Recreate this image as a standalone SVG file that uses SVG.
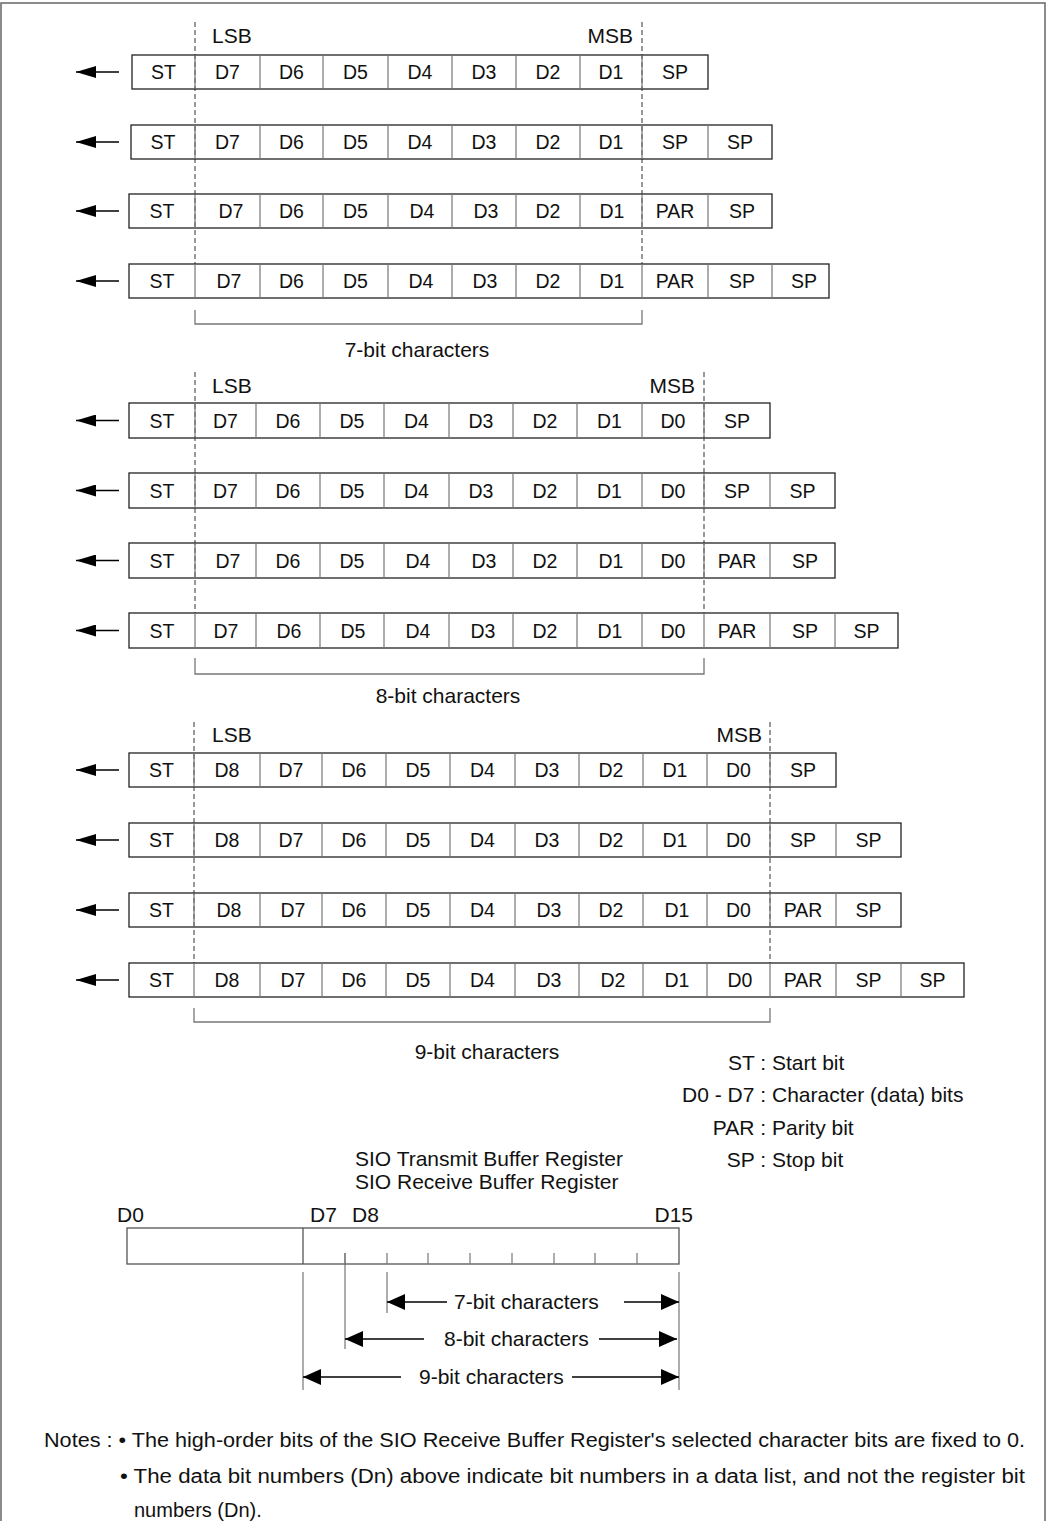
<svg xmlns="http://www.w3.org/2000/svg" width="1047" height="1521" viewBox="0 0 1047 1521">
<defs>
<marker id="ah" viewBox="0 0 20 12" refX="20" refY="6" markerWidth="20" markerHeight="12" markerUnits="userSpaceOnUse" orient="auto"><path d="M0,0 L20,6 L0,12 z" fill="#000"/></marker>
<marker id="ah2" viewBox="0 0 18 16" refX="18" refY="8" markerWidth="18" markerHeight="16" markerUnits="userSpaceOnUse" orient="auto"><path d="M0,0 L18,8 L0,16 z" fill="#000"/></marker>
<style>
text{font-family:"Liberation Sans",Arial,sans-serif;fill:#111}
.c{font-size:19.5px;text-anchor:middle}
.l{font-size:21px}
.lm{font-size:21px;text-anchor:middle}
.le{font-size:21px;text-anchor:end}
.n{font-size:20px}
.box{fill:none;stroke:#222;stroke-width:1.3}
.div{fill:none;stroke:#777;stroke-width:1.2}
.dash{fill:none;stroke:#333;stroke-width:1;stroke-dasharray:5,3}
.brk{fill:none;stroke:#777;stroke-width:1.3}
.arr{fill:none;stroke:#000;stroke-width:1.3;marker-end:url(#ah)}
.arr2{fill:none;stroke:#000;stroke-width:1.3;marker-end:url(#ah2)}
.reg{fill:none;stroke:#555;stroke-width:1.3}
.thin{fill:none;stroke:#777;stroke-width:1.2}
</style>
</defs>
<rect x="1" y="3" width="1044" height="1530" fill="none" stroke="#666" stroke-width="1.5"/>

<g id="connectors">
<path class="arr" d="M119,72 H76"/>
<path class="arr" d="M119,142 H76"/>
<path class="arr" d="M119,211 H76"/>
<path class="arr" d="M119,281 H76"/>
<path class="arr" d="M119,420.5 H76"/>
<path class="arr" d="M119,490.5 H76"/>
<path class="arr" d="M119,560.5 H76"/>
<path class="arr" d="M119,630.5 H76"/>
<path class="arr" d="M119,770 H76"/>
<path class="arr" d="M119,840 H76"/>
<path class="arr" d="M119,910 H76"/>
<path class="arr" d="M119,980 H76"/>
<path class="dash" d="M195,22 V264 M642,22 V264"/>
<path class="dash" d="M195,372 V613 M704,372 V613"/>
<path class="dash" d="M194,722 V963 M770,722 V963"/>
<path class="brk" d="M195,310 V324 H642 V310"/>
<path class="brk" d="M195,658 V674 H704 V658"/>
<path class="brk" d="M194,1008 V1022 H770 V1008"/>
<path class="thin" d="M303,1272 V1390 M345,1253 V1349 M387,1272 V1313 M679,1272 V1390"/>
<path class="arr2" d="M447,1302 H387"/>
<path class="arr2" d="M624,1302 H679"/>
<path class="arr2" d="M424,1339 H345"/>
<path class="arr2" d="M599,1339 H677"/>
<path class="arr2" d="M401,1377 H303"/>
<path class="arr2" d="M572,1377 H679"/>
</g>

<g id="sec7-labels">
<text class="l" x="212" y="43">LSB</text>
<text class="le" x="633" y="43">MSB</text>
<text class="lm" x="417" y="357">7-bit characters</text>
</g>
<g id="sec7-row1">
<rect class="box" x="132" y="55" width="576" height="34"/>
<path class="div" d="M195,55V89M260,55V89M323,55V89M388,55V89M452,55V89M516,55V89M580,55V89M642,55V89"/>
<text class="c" x="163.5" y="79">ST</text><text class="c" x="227.5" y="79">D7</text><text class="c" x="291.5" y="79">D6</text><text class="c" x="355.5" y="79">D5</text><text class="c" x="420" y="79">D4</text><text class="c" x="484" y="79">D3</text><text class="c" x="548" y="79">D2</text><text class="c" x="611" y="79">D1</text><text class="c" x="675" y="79">SP</text>
</g>
<g id="sec7-row2">
<rect class="box" x="131" y="125" width="641" height="34"/>
<path class="div" d="M195,125V159M260,125V159M323,125V159M388,125V159M452,125V159M516,125V159M580,125V159M642,125V159M708,125V159"/>
<text class="c" x="163" y="149">ST</text><text class="c" x="227.5" y="149">D7</text><text class="c" x="291.5" y="149">D6</text><text class="c" x="355.5" y="149">D5</text><text class="c" x="420" y="149">D4</text><text class="c" x="484" y="149">D3</text><text class="c" x="548" y="149">D2</text><text class="c" x="611" y="149">D1</text><text class="c" x="675" y="149">SP</text><text class="c" x="740" y="149">SP</text>
</g>
<g id="sec7-row3">
<rect class="box" x="129" y="194" width="643" height="34"/>
<path class="div" d="M195,194V228M260,194V228M323,194V228M388,194V228M452,194V228M516,194V228M580,194V228M642,194V228M708,194V228"/>
<text class="c" x="162" y="218">ST</text><text class="c" x="231" y="218">D7</text><text class="c" x="291.5" y="218">D6</text><text class="c" x="355.5" y="218">D5</text><text class="c" x="422" y="218">D4</text><text class="c" x="486" y="218">D3</text><text class="c" x="548" y="218">D2</text><text class="c" x="612" y="218">D1</text><text class="c" x="675" y="218">PAR</text><text class="c" x="742" y="218">SP</text>
</g>
<g id="sec7-row4">
<rect class="box" x="129" y="264" width="700" height="34"/>
<path class="div" d="M195,264V298M260,264V298M323,264V298M388,264V298M452,264V298M516,264V298M580,264V298M642,264V298M708,264V298M772,264V298"/>
<text class="c" x="162" y="288">ST</text><text class="c" x="229" y="288">D7</text><text class="c" x="291.5" y="288">D6</text><text class="c" x="355.5" y="288">D5</text><text class="c" x="421" y="288">D4</text><text class="c" x="485" y="288">D3</text><text class="c" x="548" y="288">D2</text><text class="c" x="612" y="288">D1</text><text class="c" x="675" y="288">PAR</text><text class="c" x="742" y="288">SP</text><text class="c" x="804" y="288">SP</text>
</g>

<g id="sec8-labels">
<text class="l" x="212" y="393">LSB</text>
<text class="le" x="695" y="393">MSB</text>
<text class="lm" x="448" y="703">8-bit characters</text>
</g>
<g id="sec8-row1">
<rect class="box" x="129" y="403" width="641" height="35"/>
<path class="div" d="M195,403V438M256,403V438M320,403V438M384,403V438M449,403V438M513,403V438M577,403V438M642,403V438M704,403V438"/>
<text class="c" x="162" y="427.5">ST</text><text class="c" x="225.5" y="427.5">D7</text><text class="c" x="288" y="427.5">D6</text><text class="c" x="352" y="427.5">D5</text><text class="c" x="416.5" y="427.5">D4</text><text class="c" x="481" y="427.5">D3</text><text class="c" x="545" y="427.5">D2</text><text class="c" x="609.5" y="427.5">D1</text><text class="c" x="673" y="427.5">D0</text><text class="c" x="737" y="427.5">SP</text>
</g>
<g id="sec8-row2">
<rect class="box" x="129" y="473" width="706" height="35"/>
<path class="div" d="M195,473V508M256,473V508M320,473V508M384,473V508M449,473V508M513,473V508M577,473V508M642,473V508M704,473V508M770,473V508"/>
<text class="c" x="162" y="497.5">ST</text><text class="c" x="225.5" y="497.5">D7</text><text class="c" x="288" y="497.5">D6</text><text class="c" x="352" y="497.5">D5</text><text class="c" x="416.5" y="497.5">D4</text><text class="c" x="481" y="497.5">D3</text><text class="c" x="545" y="497.5">D2</text><text class="c" x="609.5" y="497.5">D1</text><text class="c" x="673" y="497.5">D0</text><text class="c" x="737" y="497.5">SP</text><text class="c" x="802.5" y="497.5">SP</text>
</g>
<g id="sec8-row3">
<rect class="box" x="129" y="543" width="706" height="35"/>
<path class="div" d="M195,543V578M256,543V578M320,543V578M384,543V578M449,543V578M513,543V578M577,543V578M642,543V578M704,543V578M770,543V578"/>
<text class="c" x="162" y="567.5">ST</text><text class="c" x="228" y="567.5">D7</text><text class="c" x="288" y="567.5">D6</text><text class="c" x="352" y="567.5">D5</text><text class="c" x="418" y="567.5">D4</text><text class="c" x="484" y="567.5">D3</text><text class="c" x="545" y="567.5">D2</text><text class="c" x="611" y="567.5">D1</text><text class="c" x="673" y="567.5">D0</text><text class="c" x="737" y="567.5">PAR</text><text class="c" x="805" y="567.5">SP</text>
</g>
<g id="sec8-row4">
<rect class="box" x="129" y="613" width="769" height="35"/>
<path class="div" d="M195,613V648M256,613V648M320,613V648M384,613V648M449,613V648M513,613V648M577,613V648M642,613V648M704,613V648M770,613V648M835,613V648"/>
<text class="c" x="162" y="637.5">ST</text><text class="c" x="226" y="637.5">D7</text><text class="c" x="289" y="637.5">D6</text><text class="c" x="353" y="637.5">D5</text><text class="c" x="418" y="637.5">D4</text><text class="c" x="483" y="637.5">D3</text><text class="c" x="545" y="637.5">D2</text><text class="c" x="610" y="637.5">D1</text><text class="c" x="673" y="637.5">D0</text><text class="c" x="737" y="637.5">PAR</text><text class="c" x="805" y="637.5">SP</text><text class="c" x="866.5" y="637.5">SP</text>
</g>

<g id="sec9-labels">
<text class="l" x="212" y="742">LSB</text>
<text class="le" x="762" y="742">MSB</text>
<text class="lm" x="487" y="1059">9-bit characters</text>
</g>
<g id="sec9-row1">
<rect class="box" x="129" y="753" width="707" height="34"/>
<path class="div" d="M194,753V787M260,753V787M322,753V787M386,753V787M450,753V787M515,753V787M579,753V787M643,753V787M707,753V787M770,753V787"/>
<text class="c" x="161.5" y="777">ST</text><text class="c" x="227" y="777">D8</text><text class="c" x="291" y="777">D7</text><text class="c" x="354" y="777">D6</text><text class="c" x="418" y="777">D5</text><text class="c" x="482.5" y="777">D4</text><text class="c" x="547" y="777">D3</text><text class="c" x="611" y="777">D2</text><text class="c" x="675" y="777">D1</text><text class="c" x="738.5" y="777">D0</text><text class="c" x="803" y="777">SP</text>
</g>
<g id="sec9-row2">
<rect class="box" x="129" y="823" width="772" height="34"/>
<path class="div" d="M194,823V857M260,823V857M322,823V857M386,823V857M450,823V857M515,823V857M579,823V857M643,823V857M707,823V857M770,823V857M836,823V857"/>
<text class="c" x="161.5" y="847">ST</text><text class="c" x="227" y="847">D8</text><text class="c" x="291" y="847">D7</text><text class="c" x="354" y="847">D6</text><text class="c" x="418" y="847">D5</text><text class="c" x="482.5" y="847">D4</text><text class="c" x="547" y="847">D3</text><text class="c" x="611" y="847">D2</text><text class="c" x="675" y="847">D1</text><text class="c" x="738.5" y="847">D0</text><text class="c" x="803" y="847">SP</text><text class="c" x="868.5" y="847">SP</text>
</g>
<g id="sec9-row3">
<rect class="box" x="129" y="893" width="772" height="34"/>
<path class="div" d="M194,893V927M260,893V927M322,893V927M386,893V927M450,893V927M515,893V927M579,893V927M643,893V927M707,893V927M770,893V927M836,893V927"/>
<text class="c" x="161.5" y="917">ST</text><text class="c" x="229" y="917">D8</text><text class="c" x="293" y="917">D7</text><text class="c" x="354" y="917">D6</text><text class="c" x="418" y="917">D5</text><text class="c" x="482.5" y="917">D4</text><text class="c" x="549" y="917">D3</text><text class="c" x="611" y="917">D2</text><text class="c" x="677" y="917">D1</text><text class="c" x="738.5" y="917">D0</text><text class="c" x="803" y="917">PAR</text><text class="c" x="868.5" y="917">SP</text>
</g>
<g id="sec9-row4">
<rect class="box" x="129" y="963" width="835" height="34"/>
<path class="div" d="M194,963V997M260,963V997M322,963V997M386,963V997M450,963V997M515,963V997M579,963V997M643,963V997M707,963V997M770,963V997M836,963V997M901,963V997"/>
<text class="c" x="161.5" y="987">ST</text><text class="c" x="227" y="987">D8</text><text class="c" x="293" y="987">D7</text><text class="c" x="354" y="987">D6</text><text class="c" x="418" y="987">D5</text><text class="c" x="482.5" y="987">D4</text><text class="c" x="549" y="987">D3</text><text class="c" x="613" y="987">D2</text><text class="c" x="677" y="987">D1</text><text class="c" x="740" y="987">D0</text><text class="c" x="803" y="987">PAR</text><text class="c" x="868.5" y="987">SP</text><text class="c" x="932.5" y="987">SP</text>
</g>

<g id="legend">
<text class="le" x="766" y="1070">ST :</text><text class="l" x="772" y="1070">Start bit</text>
<text class="le" x="766" y="1102">D0 - D7 :</text><text class="l" x="772" y="1102">Character (data) bits</text>
<text class="le" x="766" y="1135">PAR :</text><text class="l" x="772" y="1135">Parity bit</text>
<text class="le" x="766" y="1167">SP :</text><text class="l" x="772" y="1167">Stop bit</text>
</g>

<g id="register">
<text class="l" x="355" y="1166">SIO Transmit Buffer Register</text>
<text class="l" x="355" y="1189">SIO Receive Buffer Register</text>
<text class="l" x="117" y="1222">D0</text>
<text class="l" x="310" y="1222">D7</text>
<text class="l" x="352" y="1222">D8</text>
<text class="le" x="693" y="1222">D15</text>
<rect class="reg" x="127" y="1228" width="552" height="36"/>
<path class="reg" d="M303,1228V1264"/>
<path class="thin" d="M345,1253V1264M387,1253V1264M428,1253V1264M470,1253V1264M512,1253V1264M554,1253V1264M595,1253V1264M637,1253V1264"/>
<text class="l" x="454" y="1309">7-bit characters</text>
<text class="l" x="444" y="1346">8-bit characters</text>
<text class="l" x="419" y="1384">9-bit characters</text>
</g>

<g id="notes">
<text class="n" x="44" y="1447" textLength="981" lengthAdjust="spacingAndGlyphs">Notes : • The high-order bits of the SIO Receive Buffer Register's selected character bits are fixed to 0.</text>
<text class="n" x="120" y="1483" textLength="905" lengthAdjust="spacingAndGlyphs">• The data bit numbers (Dn) above indicate bit numbers in a data list, and not the register bit</text>
<text class="n" x="134" y="1517">numbers (Dn).</text>
</g>
</svg>
